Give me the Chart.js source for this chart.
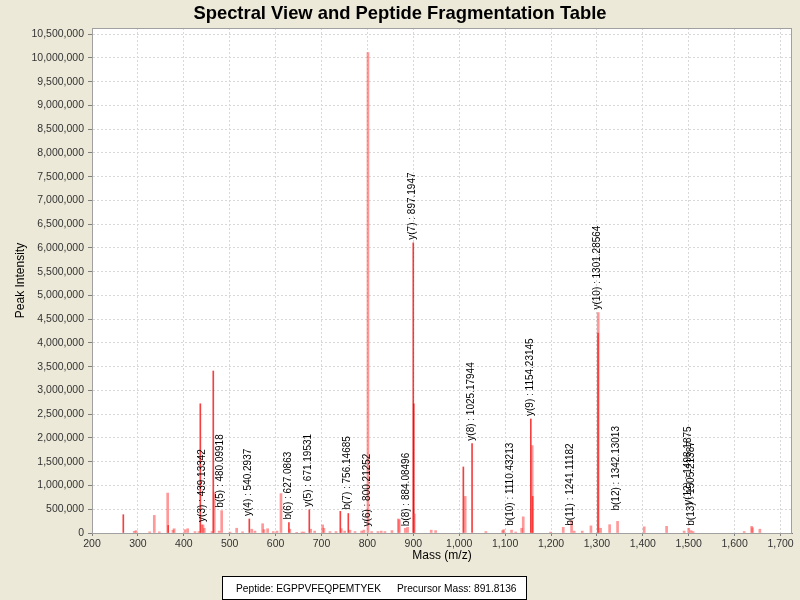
<!DOCTYPE html>
<html>
<head>
<meta charset="utf-8">
<script src="https://cdn.jsdelivr.net/npm/chart.js@4.4.1/dist/chart.umd.min.js"></script>
<style>
  html, body { margin: 0; padding: 0; background: #ECE9D8; }
  #wrap { width: 800px; height: 600px; }
</style>
</head>
<body>
<div id="wrap"><canvas id="spectrum" width="800" height="600"></canvas></div>
<script>
// Spectrum peaks - light (pink) ones
const lightMass = [292, 296, 325.6, 335.7, 346.6, 364.9, 376.4, 379, 402.6, 408.4, 424.4, 433, 439, 441.8, 444.6,
  461.4, 466.4, 477, 482.5, 500.6, 515.2, 528, 548, 555, 571.7, 574.6, 582.6, 594.9, 603, 611.7, 631,
  645.9, 657.4, 661.8, 676.4, 685, 702.5, 705.3, 718.4, 731.5, 743, 750.4, 762, 772.9, 787.4, 792.4,
  801.2, 809.2, 822.9, 830.2, 838.2, 853.5, 867.3, 869.5, 882.4, 887.6, 902, 939, 948.6, 1013, 1058,
  1094.6, 1097, 1114, 1123, 1136, 1139.5, 1159, 1199, 1226.6, 1244.8, 1250.5, 1268, 1287, 1302.8, 1308,
  1327.7, 1345, 1403, 1451.8, 1490, 1500, 1505, 1509.6, 1620.8, 1637, 1639, 1655];
const lightIntensity = [35000, 50000, 25000, 370000, 25000, 840000, 60000, 90000, 70000, 90000, 30000, 30000, 170000, 170000, 100000,
  30000, 850000, 40000, 470000, 20000, 100000, 25000, 80000, 40000, 195000, 70000, 90000, 30000, 40000, 830000, 80000,
  15000, 20000, 20000, 80000, 40000, 170000, 100000, 30000, 30000, 90000, 40000, 60000, 30000, 40000, 60000,
  10110000, 30000, 30000, 40000, 30000, 50000, 295000, 280000, 100000, 120000, 400000, 60000, 50000, 770000, 30000,
  50000, 70000, 60000, 20000, 100000, 340000, 1840000, 20000, 120000, 260000, 40000, 40000, 150000, 4640000, 100000,
  175000, 245000, 130000, 140000, 40000, 100000, 50000, 30000, 30000, 140000, 110000, 80000];

// Spectrum peaks - strong (red) ones
const redMass = [268.2, 366, 436, 464.2, 542.7, 629, 673.4, 741, 758.4, 899.9, 901, 1009, 1028, 1156, 1160, 1302.5];
const redIntensity = [385000, 160000, 2720000, 3410000, 295000, 220000, 490000, 455000, 410000, 6110000, 2720000,
  1390000, 1880000, 2400000, 770000, 4210000];

// Fragment ion annotations
const ionLabels = ['y(3) : 439.13342', 'b(5) : 480.09918', 'y(4) : 540.2937', 'b(6) : 627.0863', 'y(5) : 671.19531',
  'b(7) : 756.14685', 'y(6) : 800.21252', 'b(8) : 884.08496', 'y(7) : 897.1947', 'y(8) : 1025.17944',
  'b(10) : 1110.43213', 'y(9) : 1154.23145', 'b(11) : 1241.11182', 'y(10) : 1301.28564', 'b(12) : 1342.13013',
  'y(12) : 1498.1875', 'b(13) : 1505.21387'];
const ionMass = [439.13342, 480.09918, 540.2937, 627.0863, 671.19531, 756.14685, 800.21252, 884.08496, 897.1947,
  1025.17944, 1110.43213, 1154.23145, 1241.11182, 1301.28564, 1342.13013, 1498.1875, 1505.21387];
const ionIntensity = [170000, 470000, 295000, 220000, 490000, 430000, 75000, 80000, 6110000, 1880000, 90000,
  2400000, 90000, 4640000, 410000, 530000, 90000];

const xTicksStep = 100;
const yTickValues = [0, 500000, 1000000, 1500000, 2000000, 2500000, 3000000, 3500000, 4000000, 4500000,
  5000000, 5500000, 6000000, 6500000, 7000000, 7500000, 8000000, 8500000, 9000000, 9500000, 10000000, 10500000];
const legendItems = ['Peptide: EGPPVFEQPEMTYEK', 'Precursor Mass: 891.8136'];
const chartTitle = 'Spectral View and Peptide Fragmentation Table';

const toPoints = (xs, ys) => xs.map((x, i) => ({ x: x, y: ys[i] }));
const fmt = (v) => Number(v).toLocaleString('en-US');

const FONT = '"Liberation Sans", Arial, sans-serif';

// Backgrounds, outline, title and legend box
const framePlugin = {
  id: 'frame',
  beforeDraw(chart) {
    const { ctx, chartArea: a } = chart;
    ctx.save();
    ctx.fillStyle = '#ECE9D8';
    ctx.fillRect(0, 0, chart.width, chart.height);
    ctx.fillStyle = '#FFFFFF';
    ctx.fillRect(a.left, a.top, a.right - a.left, a.bottom - a.top);
    ctx.restore();
  },
  afterDraw(chart) {
    const { ctx, chartArea: a } = chart;
    ctx.save();
    ctx.strokeStyle = '#A0A0A0';
    ctx.lineWidth = 1;
    ctx.strokeRect(a.left + 0.5, a.top + 0.5, a.right - a.left - 1, a.bottom - a.top);

    ctx.fillStyle = '#000';
    ctx.font = 'bold 18.4px ' + FONT;
    ctx.textAlign = 'center';
    ctx.textBaseline = 'alphabetic';
    ctx.fillText(chartTitle, 400, 19);

    // legend box
    ctx.fillStyle = '#FFFFFF';
    ctx.fillRect(222, 576, 304, 23);
    ctx.strokeStyle = '#000';
    ctx.strokeRect(222.5, 576.5, 304, 23);
    ctx.fillStyle = '#000';
    ctx.font = '10.2px ' + FONT;
    ctx.textAlign = 'left';
    ctx.fillText(legendItems[0], 236, 592);
    ctx.fillText(legendItems[1], 397, 592);
    ctx.restore();
  }
};

// Rotated fragment ion labels
const ionLabelPlugin = {
  id: 'ionLabels',
  afterDatasetsDraw(chart) {
    const { ctx, scales } = chart;
    ctx.save();
    ctx.fillStyle = '#000';
    ctx.font = '10px ' + FONT;
    ctx.textAlign = 'left';
    ctx.textBaseline = 'middle';
    ionLabels.forEach((text, i) => {
      const px = scales.x.getPixelForValue(ionMass[i]);
      const py = scales.y.getPixelForValue(ionIntensity[i]) - 3;
      ctx.save();
      ctx.translate(px, py);
      ctx.rotate(-Math.PI / 2);
      ctx.fillText(text, 0, 0);
      ctx.restore();
    });
    ctx.restore();
  }
};

const ctx = document.getElementById('spectrum');
new Chart(ctx, {
  type: 'bar',
  data: {
    datasets: [
      {
        label: 'peaks',
        data: toPoints(lightMass, lightIntensity),
        backgroundColor: 'rgba(255, 50, 50, 0.5)',
        barThickness: 2,
        grouped: false
      },
      {
        label: 'strong peaks',
        data: toPoints(redMass, redIntensity),
        backgroundColor: 'rgba(240, 0, 0, 0.75)',
        barThickness: 1,
        grouped: false
      }
    ]
  },
  options: {
    responsive: false,
    animation: false,
    layout: { padding: { top: 28, right: 8, bottom: 0, left: 0 } },
    plugins: {
      legend: { display: false },
      title: { display: false },
      tooltip: { enabled: false }
    },
    scales: {
      x: {
        type: 'linear',
        min: 200,
        max: 1725,
        offset: false,
        afterFit(scale) { scale.height = 67; },
        ticks: {
          stepSize: xTicksStep,
          maxTicksLimit: 40,
          includeBounds: false,
          autoSkip: false,
          maxRotation: 0,
          padding: 2,
          color: '#333',
          font: { family: FONT, size: 10.5 },
          callback: (v) => fmt(v)
        },
        grid: {
          offset: false,
          color: '#D8D8D8',
          tickColor: '#808080',
          tickLength: 3
        },
        border: { color: '#808080', dash: [2, 2] },
        title: {
          display: true,
          text: 'Mass (m/z)',
          color: '#000',
          font: { family: FONT, size: 12 },
          padding: { top: 4, bottom: 37 }
        }
      },
      y: {
        min: 0,
        max: 10630000,
        afterFit(scale) { scale.width = 92; },
        afterBuildTicks(scale) { scale.ticks = yTickValues.map((v) => ({ value: v })); },
        ticks: {
          autoSkip: false,
          padding: 4,
          color: '#333',
          font: { family: FONT, size: 10.5 },
          callback: (v) => fmt(v)
        },
        grid: {
          color: '#D8D8D8',
          tickColor: '#808080',
          tickLength: 4
        },
        border: { color: '#808080', dash: [2, 2] },
        title: {
          display: true,
          text: 'Peak Intensity',
          color: '#000',
          font: { family: FONT, size: 12 },
          padding: { top: 13, bottom: 0 }
        }
      }
    }
  },
  plugins: [framePlugin, ionLabelPlugin]
});
</script>
</body>
</html>
